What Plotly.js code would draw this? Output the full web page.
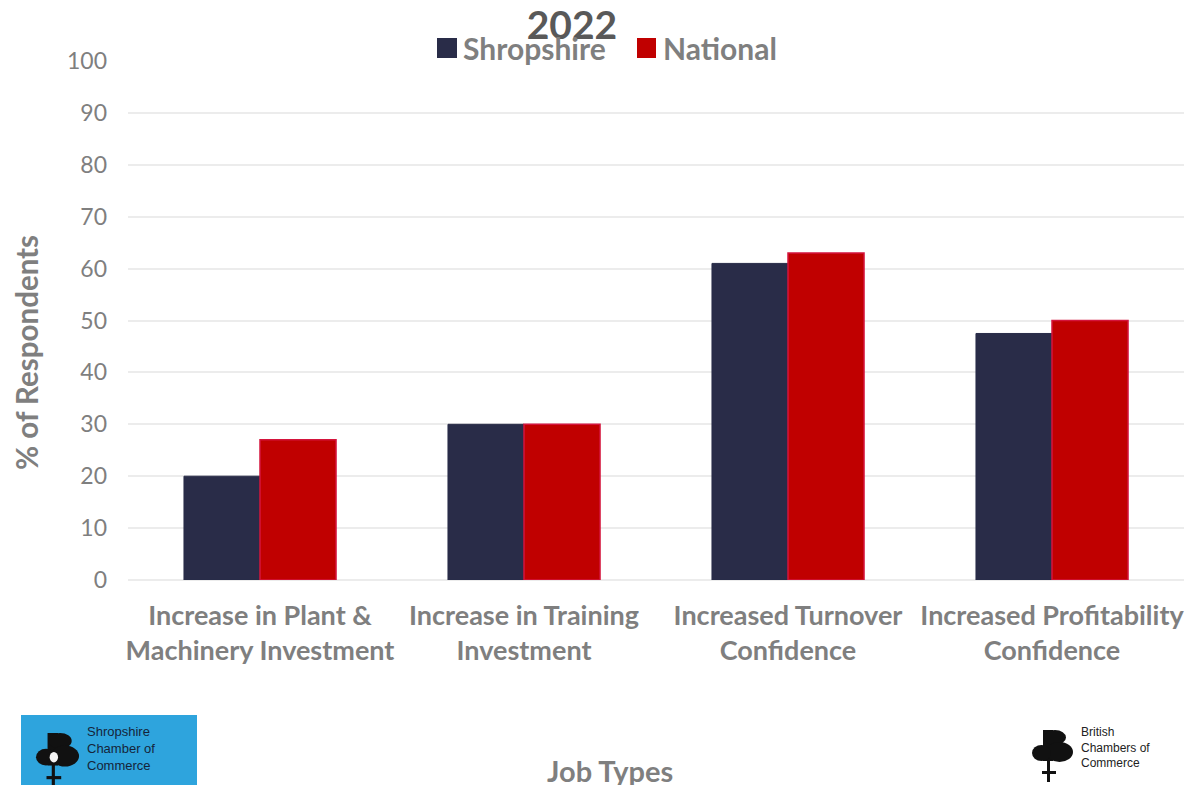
<!DOCTYPE html>
<html>
<head>
<meta charset="utf-8">
<script src="https://cdn.plot.ly/plotly-3.0.1.min.js"></script>
<style>
  html, body { margin: 0; padding: 0; background: #fff; }
  #chart { width: 1194px; height: 785px; }
</style>
</head>
<body>
<div id="chart"></div>
<script>
// Chart data
const categories = [
    'Increase in Plant &<br>Machinery Investment',
    'Increase in Training<br>Investment',
    'Increased Turnover<br>Confidence',
    'Increased Profitability<br>Confidence'
];
const shropshire = [20, 30, 61, 47.5];
const national = [27, 30, 63, 50];
const yTicks = [0, 10, 20, 30, 40, 50, 60, 70, 80, 90, 100];

const font = 'Lato, Calibri, "Open Sans", sans-serif';
const gray = '#7f7f7f';
const dark = '#595959';
const navy = '#292c48';
const red = '#c00000';

// plot area in page pixels, used to place the extra decorations
const PL = 128, PW = 1056, PB = 580, PH = 519;
const px = x => (x - PL) / PW;
const py = y => (PB - y) / PH;

const traces = [
    {
        type: 'bar', name: 'Shropshire', x: categories, y: shropshire,
        marker: { color: navy, line: { color: navy, width: 1 } }
    },
    {
        type: 'bar', name: 'National', x: categories, y: national,
        marker: { color: red, line: { color: '#d4143c', width: 1.5 } }
    }
];

// rough chamber logo drawn with shapes, s = scale
function logoShapes(left, top, s, withSpot) {
    const ax = px(left), ay = py(top);
    const base = { xref: 'paper', yref: 'paper', xsizemode: 'pixel', ysizemode: 'pixel',
                   xanchor: ax, yanchor: ay, fillcolor: '#111', line: { width: 0 } };
    const part = (type, x0, y0, x1, y1, color) => Object.assign({}, base, {
        type, x0: x0 * s, x1: x1 * s, y0: -y0 * s, y1: -y1 * s,
        fillcolor: color || '#111'
    });
    const out = [
        part('rect', 11, 0, 21, 31),
        part('circle', 12, 0, 34, 15),
        part('circle', 14, 12, 41, 32),
        part('circle', 0, 15, 19, 31),
        part('rect', 15, 30, 18, 52),
        part('rect', 10, 41, 24, 44)
    ];
    if (withSpot) out.push(part('circle', 13, 18, 21, 28, '#f4f4f4'));
    return out;
}

const layout = {
    width: 1194, height: 785,
    paper_bgcolor: '#fff', plot_bgcolor: '#fff',
    font: { family: font, color: gray },
    margin: { l: PL, r: 1194 - PL - PW, t: 61, b: 785 - PB },
    barmode: 'group', bargap: 0.424, bargroupgap: 0,
    showlegend: false,
    title: {
        text: '<b>2022</b>', x: px(572), xref: 'paper', xanchor: 'center',
        y: 1 - 25 / 785, yanchor: 'middle',
        font: { size: 39, color: dark, family: font }
    },
    xaxis: {
        tickfont: { size: 27, color: gray, family: font },
        ticks: '', showline: false, showgrid: false,
        tickprefix: '<b>', ticksuffix: '</b>', ticklabelstandoff: 17
    },
    yaxis: {
        range: [0, 100], tickvals: yTicks, ticks: '',
        tickfont: { size: 23, color: gray, family: font },
        showgrid: true, gridcolor: '#ececec', gridwidth: 1.5,
        zeroline: true, zerolinecolor: '#ececec', zerolinewidth: 1.5,
        showline: false, ticklabelstandoff: 20
    },
    shapes: [
        // legend keys
        { type: 'rect', xref: 'paper', yref: 'paper', x0: px(437), x1: px(457), y0: py(38), y1: py(58),
          fillcolor: navy, line: { width: 0 } },
        { type: 'rect', xref: 'paper', yref: 'paper', x0: px(637), x1: px(656), y0: py(38), y1: py(58),
          fillcolor: red, line: { width: 0 } },
        // Shropshire Chamber logo box
        { type: 'rect', xref: 'paper', yref: 'paper', x0: px(21), x1: px(197), y0: py(715), y1: py(786),
          fillcolor: '#2ea4dd', line: { width: 0 } }
    ]
        .concat(logoShapes(36, 733, 1.05, true))
        .concat(logoShapes(1032, 730, 1.0, false)),
    annotations: [
        {
            text: '<b>% of Respondents</b>', xref: 'paper', yref: 'paper', x: px(26), y: py(353),
            xanchor: 'center', yanchor: 'middle', textangle: -90, showarrow: false,
            font: { size: 29.5, color: gray, family: font }
        },
        {
            text: '<b>Shropshire</b>', xref: 'paper', yref: 'paper', x: px(461), y: py(48),
            xanchor: 'left', yanchor: 'middle', showarrow: false,
            font: { size: 30, color: gray, family: font }
        },
        {
            text: '<b>National</b>', xref: 'paper', yref: 'paper', x: px(661), y: py(48),
            xanchor: 'left', yanchor: 'middle', showarrow: false,
            font: { size: 30, color: gray, family: font }
        },
        {
            text: '<b>Job Types</b>', xref: 'paper', yref: 'paper', x: px(610), y: py(770),
            xanchor: 'center', yanchor: 'middle', showarrow: false,
            font: { size: 29, color: gray, family: font }
        },
        {
            text: 'Shropshire<br>Chamber of<br>Commerce', xref: 'paper', yref: 'paper', x: px(85), y: py(748),
            xanchor: 'left', yanchor: 'middle', showarrow: false, align: 'left',
            font: { size: 13, color: '#15243a', family: 'Liberation Sans' }
        },
        {
            text: 'British<br>Chambers of<br>Commerce', xref: 'paper', yref: 'paper', x: px(1079), y: py(747),
            xanchor: 'left', yanchor: 'middle', showarrow: false, align: 'left',
            font: { size: 12, color: '#222', family: 'Liberation Sans' }
        }
    ]
};

Plotly.newPlot('chart', traces, layout, { displayModeBar: false });
</script>
</body>
</html>
